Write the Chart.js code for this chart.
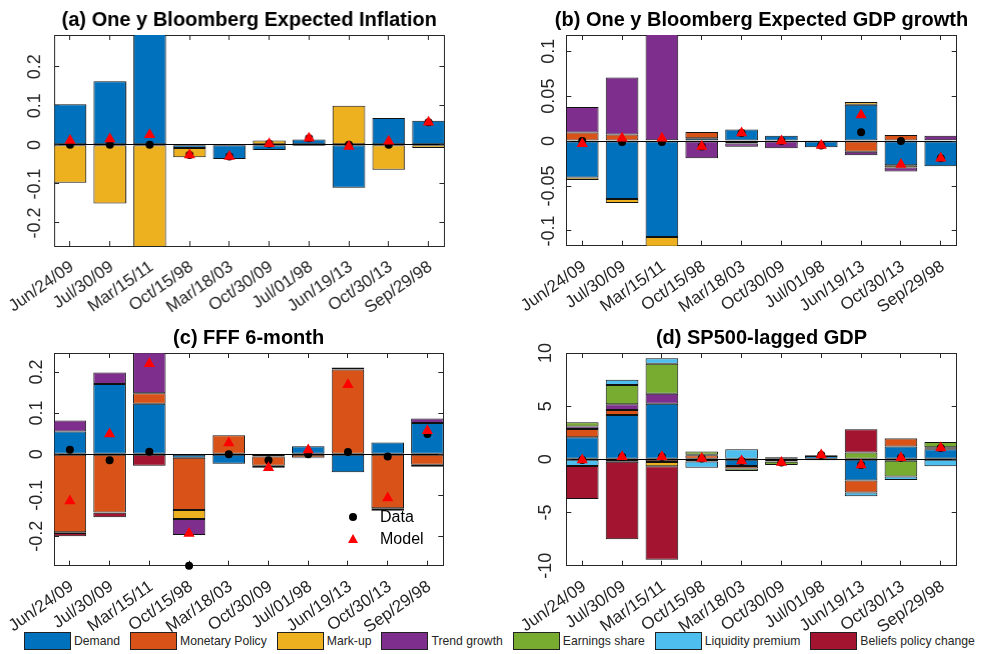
<!DOCTYPE html>
<html>
<head>
<meta charset="utf-8">
<script src="https://cdn.jsdelivr.net/npm/chart.js@4.4.1/dist/chart.umd.min.js"></script>
<style>
html, body { margin: 0; padding: 0; overflow: hidden; background: #fff; }
body { width: 982px; height: 654px; position: relative; font-family: 'Liberation Sans', Arial, sans-serif; color: #262626; }
.panel { position: absolute; }
#legend { position: absolute; left: 24px; top: 632px; display: flex; gap: 10px; font-size: 12.2px; align-items: center; }
#legend .item { display: flex; align-items: center; }
#legend .box { width: 45px; height: 16px; border: 1px solid #222; margin-right: 3px; }
.mk { position: absolute; }
.lg { position: absolute; font-size: 16px; line-height: 18px; color: #000; }
</style>
</head>
<body>
<div class="panel" style="left:0px;top:0px;width:497.5px;height:318px"><canvas id="cA"></canvas></div>
<div class="panel" style="left:512px;top:0px;width:499px;height:318px"><canvas id="cB"></canvas></div>
<div class="panel" style="left:0px;top:318px;width:497.3px;height:314px"><canvas id="cC"></canvas></div>
<div class="panel" style="left:512px;top:318px;width:499px;height:314px"><canvas id="cD"></canvas></div>

<div class="mk" style="left:349px;top:513px;width:8px;height:8px;border-radius:50%;background:#000"></div>
<div class="lg" style="left:380px;top:508px">Data</div>
<div class="mk" style="left:347.5px;top:534px;width:0;height:0;border-left:5.5px solid transparent;border-right:5.5px solid transparent;border-bottom:9.5px solid #ff0000"></div>
<div class="lg" style="left:380px;top:530px">Model</div>

<div id="legend"></div>

<script>
var cats = ['Jun/24/09', 'Jul/30/09', 'Mar/15/11', 'Oct/15/98', 'Mar/18/03', 'Oct/30/09', 'Jul/01/98', 'Jun/19/13', 'Oct/30/13', 'Sep/29/98'];
var seriesNames = ['Demand', 'Monetary Policy', 'Mark-up', 'Trend growth', 'Earnings share', 'Liquidity premium', 'Beliefs policy change'];
var seriesColors = ['#0072BD', '#D95319', '#EDB120', '#7E2F8E', '#77AC30', '#4DBEEE', '#A2142F'];

// (a) inflation
var aDemand = [0.104, 0.163, 0.31, -0.008, -0.036, -0.013, 0.014, -0.110, 0.069, 0.062];
var aMarkup = [-0.097, -0.150, -0.285, -0.024, 0, 0.011, -0.003, 0.100, -0.064, -0.008];
var aModel = [0.011, 0.015, 0.026, -0.026, -0.030, 0.003, 0.017, -0.004, 0.009, 0.058];
var aData = [0, 0, 0, -0.026, -0.030, 0.003, 0.017, 0, 0, 0.058];
var aTicks = [-0.2, -0.1, 0, 0.1, 0.2];
var aTickLabels = ['-0.2', '-0.1', '0', '0.1', '0.2'];

// (b) GDP growth
var bDemand = [-0.0404, -0.0644, -0.1067, 0.003, 0.013, 0.006, -0.007, 0.0405, -0.0268, -0.028];
var bMonetary = [0.0096, 0.0074, 0.001, 0.007, -0.0026, 0, 0.001, -0.0119, 0.0067, 0.001];
var bMarkup = [-0.0029, -0.0045, -0.013, 0, 0, 0, 0, 0.003, -0.0025, 0];
var bTrend = [0.0282, 0.0633, 0.118, -0.019, -0.0037, -0.008, 0, -0.004, -0.0045, 0.005];
var bModel = [-0.003, 0.003, 0.003, -0.006, 0.009, 0.0, -0.005, 0.029, -0.026, -0.019];
var bData = [0, -0.001, -0.001, -0.006, 0.009, 0.0, -0.005, 0.0097, 0, -0.019];
var bTicks = [-0.1, -0.05, 0, 0.05, 0.1];
var bTickLabels = ['-0.1', '-0.05', '0', '0.05', '0.1'];

// (c) FFF 6-month
var cDemand = [0.055, 0.171, 0.123, -0.009, -0.0236, -0.006, 0.019, -0.044, 0.0285, 0.0756];
var cMonetary = [-0.190, -0.142, 0.025, -0.127, 0.046, -0.022, -0.008, 0.206, -0.132, -0.026];
var cMarkup = [-0.002, -0.001, 0, -0.022, 0, 0, -0.002, 0, -0.004, -0.005];
var cTrend = [0.027, 0.028, 0.100, -0.039, 0, -0.004, 0, 0, 0, 0.0114];
var cBeliefs = [-0.008, -0.011, -0.028, 0, 0, -0.002, 0, 0.005, -0.002, 0];
var cModel = [-0.114, 0.049, 0.220, -0.193, 0.027, -0.033, 0.010, 0.169, -0.107, 0.057];
var cData = [0.0106, -0.015, 0.006, -0.272, 0.0, -0.015, 0.0, 0.005, -0.006, 0.049];
var cTicks = [-0.2, -0.1, 0, 0.1, 0.2];
var cTickLabels = ['-0.2', '-0.1', '0', '0.1', '0.2'];

// (d) SP500-lagged GDP
var dDemand = [2.08, 4.18, 5.22, -0.2, -0.63, -0.18, 0.32, -1.98, 1.2, 0.94];
var dMonetary = [0.78, 0.47, -0.25, 0.38, -0.22, -0.05, 0, -1.13, 0.75, 0.1];
var dMarkup = [0, -0.22, -0.4, 0, 0, 0, 0, 0, -0.12, 0.1];
var dTrend = [0.22, 0.54, 0.94, 0.06, 0, 0.2, 0.06, 0, 0.06, 0];
var dEarnings = [0.41, 1.79, 2.83, 0.3, -0.25, -0.3, -0.08, 0.65, -1.5, 0.5];
var dLiquidity = [-0.63, 0.5, 0.51, -0.6, 0.94, 0, 0, -0.35, -0.33, -0.64];
var dBeliefs = [-3.11, -7.30, -8.78, 0, 0, 0, 0, 2.18, 0, 0];
var dModel = [-0.06, 0.25, 0.25, 0.08, -0.15, -0.3, 0.42, -0.53, 0.15, 1.07];
var dData = [-0.06, 0.25, 0.25, 0.08, -0.15, -0.3, 0.42, -0.53, 0.15, 1.07];
var dTicks = [-10, -5, 0, 5, 10];
var dTickLabels = ['-10', '-5', '0', '5', '10'];

Chart.defaults.font.family = "'Liberation Sans', Arial, sans-serif";
Chart.defaults.color = '#262626';

function toPts(vals, dropZero) {
    return vals.map((v, i) => ({ x: i + 1, y: (dropZero && v === 0) ? null : v }));
}

function catTicks(scale) {
    scale.ticks = cats.map((c, i) => ({ value: i + 1 }));
}

function makePanel(id, p) {
    var datasets = [
        { type: 'line', label: 'Model', data: toPts(p.model, false), showLine: false, pointStyle: 'triangle',
          pointRadius: 6.5, pointBackgroundColor: '#ff0000', pointBorderColor: '#ff0000', pointBorderWidth: 0,
          stack: 'model', clip: 12, xAxisID: 'x', yAxisID: 'y' },
        { type: 'line', label: 'Data', data: toPts(p.data, false), showLine: false, pointStyle: 'circle',
          pointRadius: 4, pointBackgroundColor: '#000', pointBorderColor: '#000', pointBorderWidth: 0,
          stack: 'data', clip: 12, xAxisID: 'x', yAxisID: 'y' }
    ];
    p.parts.forEach(function (part) {
        datasets.push({
            type: 'bar', label: seriesNames[part[0]], data: toPts(part[1], true),
            backgroundColor: seriesColors[part[0]], borderColor: '#111', borderWidth: 1, borderSkipped: false,
            stack: 'bars', categoryPercentage: 1, barPercentage: 0.82, xAxisID: 'x', yAxisID: 'y'
        });
    });

    var yTicks = function (scale) { scale.ticks = p.ticks.map(v => ({ value: v })); };

    new Chart(document.getElementById(id), {
        data: { datasets: datasets },
        options: {
            responsive: true,
            maintainAspectRatio: false,
            animation: false,
            layout: { autoPadding: false, padding: 0 },
            plugins: {
                legend: { display: false },
                tooltip: { enabled: false },
                title: { display: true, text: p.title, color: '#000', font: { size: 20, weight: 'bold' },
                         padding: { top: 8, bottom: 3 } }
            },
            scales: {
                x: {
                    type: 'linear', min: 0.6, max: 10.4, stacked: true, offset: false,
                    afterBuildTicks: catTicks,
                    afterFit: function (s) { s.height = p.xHeight; s.paddingLeft = 0; s.paddingRight = 0; },
                    ticks: { autoSkip: false, minRotation: 35, maxRotation: 35, padding: 16, labelOffset: 2,
                             font: { size: 17 }, color: '#262626', callback: (v, i) => cats[i] },
                    grid: { drawOnChartArea: false, offset: false, tickLength: -5, color: '#262626' },
                    border: { color: '#262626' }
                },
                x2: {
                    type: 'linear', position: 'top', min: 0.6, max: 10.4, offset: false,
                    afterBuildTicks: catTicks,
                    afterFit: function (s) { s.height = 0; s.paddingLeft = 0; s.paddingRight = 0; },
                    ticks: { display: false },
                    grid: { drawOnChartArea: false, offset: false, tickLength: -5, color: '#262626' },
                    border: { color: '#262626' }
                },
                y: {
                    type: 'linear', min: p.yMin, max: p.yMax, stacked: true,
                    afterBuildTicks: yTicks,
                    afterFit: function (s) { s.width = p.yWidth; s.paddingTop = 0; s.paddingBottom = 0; },
                    ticks: { minRotation: 90, maxRotation: 90, crossAlign: 'center', padding: p.yPad,
                             font: { size: 18 }, color: '#262626', callback: (v, i) => p.tickLabels[i] },
                    grid: { color: ctx => (ctx.tick && ctx.tick.value === 0) ? '#000' : 'rgba(0,0,0,0)',
                            tickColor: '#262626', tickLength: -5 },
                    border: { color: '#262626' }
                },
                y2: {
                    type: 'linear', position: 'right', min: p.yMin, max: p.yMax,
                    afterBuildTicks: yTicks,
                    afterFit: function (s) { s.width = p.yWidth; s.paddingTop = 0; s.paddingBottom = 0; },
                    ticks: { display: false },
                    grid: { drawOnChartArea: false, tickLength: -5, color: '#262626' },
                    border: { color: '#262626' }
                }
            }
        }
    });
}

makePanel('cA', {
    title: '(a) One y Bloomberg Expected Inflation',
    parts: [[0, aDemand], [2, aMarkup]], model: aModel, data: aData,
    yMin: -0.259, yMax: 0.2814, ticks: aTicks, tickLabels: aTickLabels,
    yWidth: 54, xHeight: 72, yPad: 8
});
makePanel('cB', {
    title: '(b) One y Bloomberg Expected GDP growth',
    parts: [[0, bDemand], [1, bMonetary], [2, bMarkup], [3, bTrend]], model: bModel, data: bData,
    yMin: -0.1164, yMax: 0.118, ticks: bTicks, tickLabels: bTickLabels,
    yWidth: 54.3, xHeight: 72.3, yPad: 2
});
makePanel('cC', {
    title: '(c) FFF 6-month',
    parts: [[0, cDemand], [1, cMonetary], [2, cMarkup], [3, cTrend], [6, cBeliefs]], model: cModel, data: cData,
    yMin: -0.2717, yMax: 0.2463, ticks: cTicks, tickLabels: cTickLabels,
    yWidth: 54, xHeight: 66.3, yPad: 6
});
makePanel('cD', {
    title: '(d) SP500-lagged GDP',
    parts: [[0, dDemand], [1, dMonetary], [2, dMarkup], [3, dTrend], [4, dEarnings], [5, dLiquidity], [6, dBeliefs]],
    model: dModel, data: dData,
    yMin: -10, yMax: 10, ticks: dTicks, tickLabels: dTickLabels,
    yWidth: 54.3, xHeight: 66.3, yPad: 12
});

// bottom legend
var legend = document.getElementById('legend');
seriesNames.forEach(function (name, i) {
    var item = document.createElement('div');
    item.className = 'item';
    var box = document.createElement('div');
    box.className = 'box';
    box.style.background = seriesColors[i];
    var txt = document.createElement('span');
    txt.textContent = name;
    item.appendChild(box);
    item.appendChild(txt);
    legend.appendChild(item);
});
</script>
</body>
</html>
